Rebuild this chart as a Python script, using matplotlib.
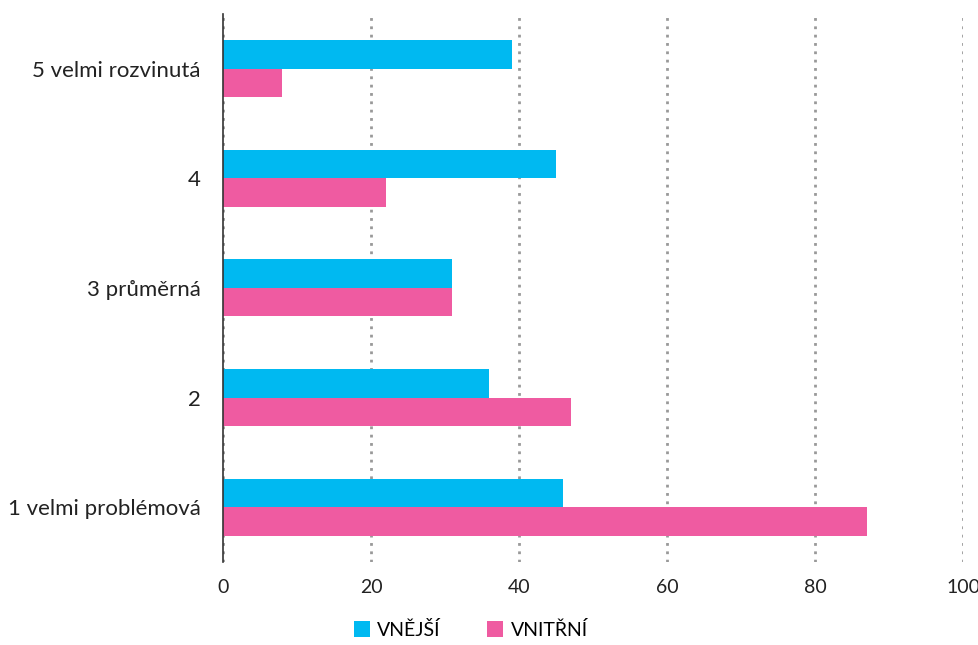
import matplotlib.pyplot as plt
import numpy as np

plt.rcParams['font.family'] = ['Lato', 'DejaVu Sans']

categories = ['1 velmi problémová', '2', '3 průměrná', '4', '5 velmi rozvinutá']
vnejsi = [46, 36, 31, 45, 39]
vnitrni = [87, 47, 31, 22, 8]
series_names = ['VNĚJŠÍ', 'VNITŘNÍ']
colors = ['#00B9F1', '#EF5BA1']

fig = plt.figure(figsize=(9.79, 6.45), dpi=100)
ax = fig.add_axes([0.2278, 0.1287, 0.7559, 0.8496])

y = np.arange(len(categories))
h = 0.26
ax.barh(y + h / 2, vnejsi, height=h, color=colors[0], label=series_names[0], zorder=3)
ax.barh(y - h / 2, vnitrni, height=h, color=colors[1], label=series_names[1], zorder=3)

ax.set_xlim(0, 100)
ax.set_ylim(-0.5, len(categories) - 0.5)
ax.set_xticks([0, 20, 40, 60, 80, 100])
ax.set_yticks(y)
ax.set_yticklabels(categories)
ax.tick_params(length=0, colors='#222222')
ax.tick_params(axis='x', pad=12, labelsize=14)
ax.tick_params(axis='y', pad=16, labelsize=16)

for s in ['top', 'right', 'bottom']:
    ax.spines[s].set_visible(False)
ax.spines['left'].set_color('#333333')
ax.spines['left'].set_linewidth(1.2)
ax.spines['left'].set_zorder(4)

ax.xaxis.grid(True, linestyle=(0, (1, 2)), color='#999999', linewidth=2)
ax.set_axisbelow(True)

ax.legend(loc='upper center', bbox_to_anchor=(0.335, -0.075), ncol=2, frameon=False,
          fontsize=14, handlelength=0.8, handleheight=0.9, columnspacing=2.4,
          handletextpad=0.4)

fig.savefig('out.png', dpi=100)
